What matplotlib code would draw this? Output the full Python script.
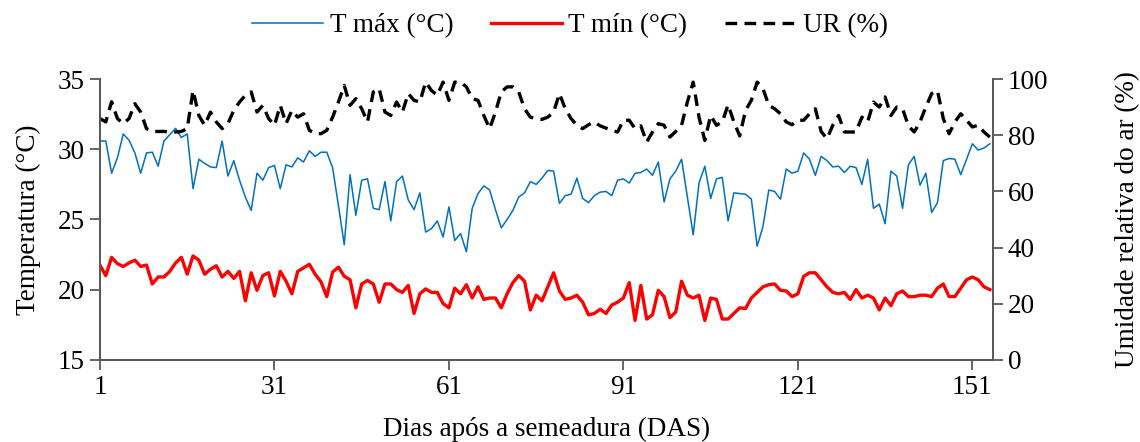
import numpy as np
import matplotlib
matplotlib.use("Agg")
import matplotlib.pyplot as plt

plt.rcParams['font.family'] = ['Liberation Serif', 'DejaVu Serif']

# DADOS
dias = np.arange(1, 155)

t_max = [30.6, 30.6, 28.3, 29.4, 31.1, 30.65, 29.75, 28.3, 29.75, 29.8,
         28.8, 30.6, 31.05, 31.5, 30.85, 31.1, 27.2, 29.3, 29.0, 28.75,
         28.7, 30.6, 28.1, 29.2, 27.8, 26.6, 25.65, 28.3, 27.8, 28.7,
         28.85, 27.2, 28.9, 28.75, 29.4, 29.1, 29.9, 29.5, 29.8, 29.8,
         28.7, 26.0, 23.2, 28.2, 25.3, 27.8, 27.9, 25.8, 25.7, 27.7,
         24.9, 27.7, 28.1, 26.4, 25.7, 26.9, 24.1, 24.35, 24.9, 23.75,
         25.9, 23.5, 24.0, 22.7, 25.8, 26.85, 27.4, 27.1, 25.7, 24.4,
         25.0, 25.65, 26.6, 26.9, 27.7, 27.5, 27.95, 28.5, 28.45, 26.15,
         26.7, 26.8, 27.95, 26.5, 26.2, 26.7, 26.95, 27.0, 26.7, 27.8,
         27.9, 27.6, 28.3, 28.35, 28.6, 28.15, 29.1, 26.25, 27.9, 28.45,
         29.3, 26.6, 23.9, 27.6, 28.8, 26.5, 27.9, 28.0, 24.9, 26.9,
         26.85, 26.8, 26.45, 23.1, 24.5, 27.1, 27.0, 26.45, 28.6, 28.3,
         28.45, 29.75, 29.3, 28.15, 29.5, 29.2, 28.75, 28.8, 28.35, 28.8,
         28.7, 27.5, 29.3, 25.8, 26.1, 24.7, 28.45, 28.1, 25.8, 28.9,
         29.5, 27.45, 28.3, 25.5, 26.2, 29.2, 29.35, 29.3, 28.2, 29.3,
         30.4, 29.95, 30.1, 30.4]

t_min = [21.74, 21.0, 22.3, 21.85, 21.65, 21.9, 22.1, 21.65, 21.75, 20.4,
         20.9, 20.9, 21.3, 21.9, 22.3, 21.1, 22.4, 22.1, 21.1, 21.45,
         21.7, 20.9, 21.3, 20.8, 21.3, 19.2, 21.2, 19.95, 21.0, 21.2,
         19.55, 21.3, 20.6, 19.7, 21.3, 21.55, 21.8, 21.1, 20.55, 19.5,
         21.25, 21.6, 20.95, 20.7, 18.7, 20.4, 20.65, 20.4, 19.1, 20.4,
         20.4, 20.0, 19.8, 20.3, 18.3, 19.7, 20.05, 19.8, 19.8, 19.0,
         18.7, 20.1, 19.7, 20.35, 19.4, 20.2, 19.3, 19.4, 19.4, 18.7,
         19.7, 20.5, 21.0, 20.6, 18.55, 19.6, 19.2, 20.2, 21.2, 19.9,
         19.3, 19.4, 19.6, 19.1, 18.2, 18.3, 18.6, 18.3, 18.9, 19.1,
         19.4, 20.5, 17.8, 20.3, 17.9, 18.2, 19.95, 19.5, 18.0, 18.4,
         20.6, 19.6, 19.4, 19.6, 17.8, 19.4, 19.3, 17.9, 17.9, 18.3,
         18.7, 18.65, 19.4, 19.8, 20.2, 20.35, 20.4, 19.95, 19.9, 19.5,
         19.7, 20.95, 21.2, 21.2, 20.7, 20.2, 19.8, 19.7, 19.8, 19.3,
         20.0, 19.4, 19.6, 19.4, 18.55, 19.4, 18.85, 19.7, 19.9, 19.5,
         19.5, 19.6, 19.6, 19.5, 20.1, 20.4, 19.5, 19.5, 20.1, 20.7,
         20.9, 20.7, 20.2, 20.0]

ur = [86.0, 84.8, 92.0, 86.0, 84.2, 86.0, 91.3, 88.3, 82.4, 81.4,
      81.4, 81.4, 81.2, 81.2, 81.4, 82.4, 96.0, 87.1, 83.6, 88.3,
      84.8, 82.4, 84.2, 88.9, 91.9, 94.3, 95.5, 88.3, 90.7, 86.0,
      83.6, 90.7, 84.2, 88.9, 86.5, 87.7, 81.8, 80.6, 80.6, 81.8,
      86.5, 91.9, 97.8, 90.7, 93.1, 89.5, 84.8, 95.5, 96.7, 88.3,
      87.1, 91.9, 88.3, 94.9, 92.5, 91.9, 99.0, 96.0, 94.3, 99.0,
      92.5, 99.0, 99.0, 97.3, 93.1, 92.5, 87.1, 82.4, 88.3, 95.5,
      97.3, 97.3, 95.5, 89.5, 86.5, 86.0, 85.7, 86.5, 88.3, 94.9,
      89.5, 86.0, 83.6, 82.4, 83.8, 84.8, 83.4, 82.6, 81.8, 81.2,
      85.4, 85.4, 82.4, 83.4, 77.6, 81.2, 84.2, 83.6, 79.4, 81.4,
      83.6, 91.9, 99.0, 86.5, 78.2, 87.1, 83.6, 84.8, 90.9, 84.8,
      79.8, 88.9, 92.5, 99.0, 96.7, 90.7, 89.5, 87.7, 84.8, 83.8,
      85.4, 85.4, 87.7, 89.5, 81.4, 78.8, 83.6, 87.1, 81.2, 81.2,
      81.2, 86.5, 84.8, 91.9, 90.1, 93.7, 87.1, 90.1, 89.5, 83.4,
      81.2, 84.8, 90.1, 94.9, 96.0, 86.0, 80.6, 84.8, 87.7, 85.4,
      83.0, 83.6, 81.2, 79.4]

x_ticks = [1, 31, 61, 91, 121, 151]

# WYKRES
fig = plt.figure(figsize=(11.4, 4.42), dpi=100)
ax = fig.add_axes([0.0877, 0.1862, 0.7831, 0.6344])
ax2 = ax.twinx()

l1, = ax.plot(dias, t_max, color="#0070C0", lw=1.1, label="T máx (°C)")
l2, = ax.plot(dias, t_min, color="#FF0000", lw=2.4, label="T mín (°C)")
l3, = ax2.plot(dias, ur, color="black", lw=2.4, dashes=(3.5, 2.2), label="UR (%)")

ax.set_xlim(1, 154.5)
ax.set_ylim(15, 35)
ax2.set_ylim(0, 100)
ax.set_xticks(x_ticks)
ax.set_yticks([15, 20, 25, 30, 35])
ax2.set_yticks([0, 20, 40, 60, 80, 100])

spine_col = "#595959"
for a in (ax, ax2):
    a.spines["top"].set_visible(False)
    for s in ("left", "right", "bottom"):
        a.spines[s].set_color(spine_col)
        a.spines[s].set_linewidth(1.3)
    a.tick_params(axis="both", direction="out", length=7, width=1.3,
                  color=spine_col, labelsize=19.5, pad=4)

ax.set_xlabel("Dias após a semeadura (DAS)", fontsize=19.5, labelpad=12)
ax.set_ylabel("Temperatura (°C)", fontsize=19.5, labelpad=12)
ax2.set_ylabel("Umidade relativa do ar (%)", fontsize=19.5, labelpad=48)

fig.legend(handles=[l1, l2, l3], loc="upper center", ncol=3, frameon=False,
           fontsize=19.5, bbox_to_anchor=(0.5, 1.025), handlelength=2.6,
           columnspacing=1.4, handletextpad=0.25)

fig.savefig("out.png", dpi=100)
